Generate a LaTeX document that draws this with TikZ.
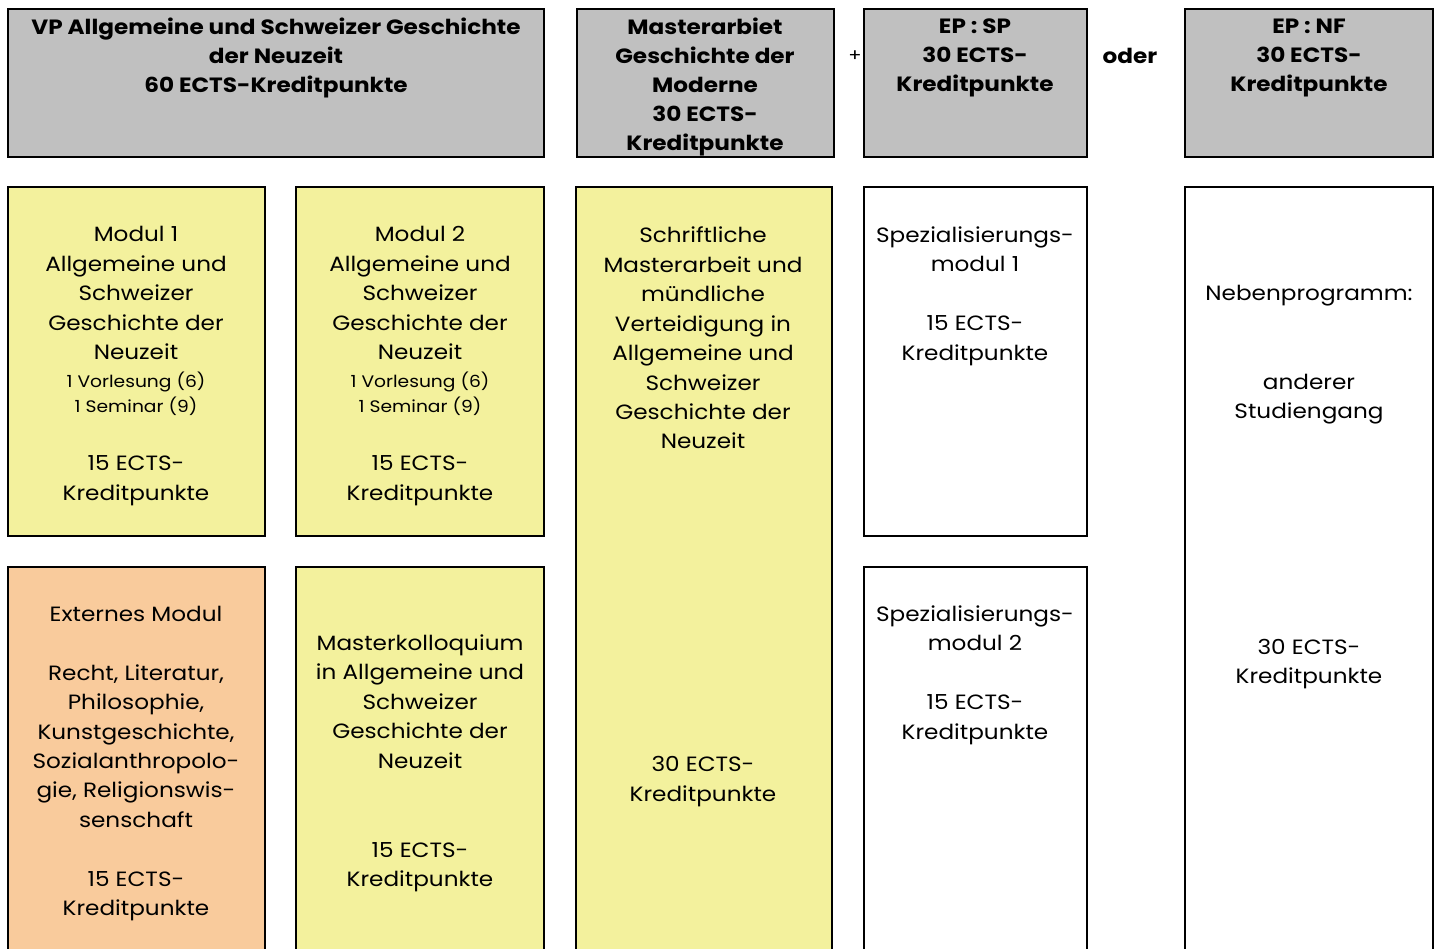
\documentclass[tikz,border=0pt]{standalone}
\usepackage{fontspec}
\setmainfont[FakeStretch=1.12]{Poppins}
\definecolor{hgray}{HTML}{C0C0C0}
\definecolor{myyellow}{HTML}{F3F19D}
\definecolor{myorange}{HTML}{F9CB9C}
\begin{document}
\begin{tikzpicture}[x=0.75pt,y=-0.75pt,
  boxline/.style={line width=2.2pt},
  hdrbox/.style={boxline,draw=black,fill=hgray},
  ylbox/.style={boxline,draw=black,fill=myyellow},
  orbox/.style={boxline,draw=black,fill=myorange},
  whbox/.style={boxline,draw=black,fill=white},
  hdr/.style={align=center,inner sep=0pt,font=\fontsize{15.5}{21.8}\selectfont\bfseries},
  txt/.style={align=center,inner sep=0pt,font=\fontsize{15.5}{22.1}\selectfont},
  smalltxt/.style={align=center,inner sep=0pt,font=\fontsize{12.5}{18.7}\selectfont}]
\useasboundingbox (0,0) rectangle (1440,949);
% header boxes
\path[hdrbox] (8,9) rectangle (544,157);
\path[hdrbox] (577,9) rectangle (834,157);
\path[hdrbox] (864,9) rectangle (1087,157);
\path[hdrbox] (1185,9) rectangle (1433,157);
\node[hdr] (hvp) at (276,58) {VP Allgemeine und Schweizer Geschichte\\der Neuzeit\\60 ECTS-Kreditpunkte};
\node[hdr] (hma) at (705,87) {Masterarbiet\\Geschichte der\\Moderne\\30 ECTS-\\Kreditpunkte};
\node[txt,font=\fontsize{13}{16}\selectfont] (plus) at (855,56) {+};
\node[hdr] (hsp) at (975,58) {EP : SP\\30 ECTS-\\Kreditpunkte};
\node[hdr] (oder) at (1130,56) {oder};
\node[hdr] (hnf) at (1309,58) {EP : NF\\30 ECTS-\\Kreditpunkte};
% body boxes
\path[ylbox] (8,187) rectangle (265,536);
\path[ylbox] (296,187) rectangle (544,536);
\path[ylbox] (576,187) rectangle (832,960);
\path[whbox] (864,187) rectangle (1087,536);
\path[whbox] (1185,187) rectangle (1433,960);
\path[orbox] (8,567) rectangle (265,960);
\path[ylbox] (296,567) rectangle (544,960);
\path[whbox] (864,567) rectangle (1087,960);
% Modul 1
\node[txt] (m1a) at (136,293) {Modul 1\\Allgemeine und\\Schweizer\\Geschichte der\\Neuzeit};
\node[smalltxt] (m1b) at (136,394) {1 Vorlesung (6)\\1 Seminar (9)};
\node[txt] (m1c) at (136,480.5) {15 ECTS-\\Kreditpunkte};
% Modul 2
\node[txt] (m2a) at (420,293) {Modul 2\\Allgemeine und\\Schweizer\\Geschichte der\\Neuzeit};
\node[smalltxt] (m2b) at (420,394) {1 Vorlesung (6)\\1 Seminar (9)};
\node[txt] (m2c) at (420,480.5) {15 ECTS-\\Kreditpunkte};
% Masterarbeit
\node[txt] (maa) at (703,338) {Schriftliche\\Masterarbeit und\\mündliche\\Verteidigung in\\Allgemeine und\\Schweizer\\Geschichte der\\Neuzeit};
\node[txt] (mab) at (703,781.5) {30 ECTS-\\Kreditpunkte};
% Spezialisierungsmodul 1
\node[txt] (sp1) at (975,296) {Spezialisierungs-\\modul 1\\\mbox{}\\15 ECTS-\\Kreditpunkte};
% Nebenprogramm
\node[txt] (nba) at (1309,296) {Nebenprogramm:};
\node[txt] (nbb) at (1309,399) {anderer\\Studiengang};
\node[txt] (nbc) at (1309,664) {30 ECTS-\\Kreditpunkte};
% Externes Modul
\node[txt] (ext) at (136,763.5) {Externes Modul\\\mbox{}\\Recht, Literatur,\\Philosophie,\\Kunstgeschichte,\\Sozialanthropolo-\\gie, Religionswis-\\senschaft\\\mbox{}\\15 ECTS-\\Kreditpunkte};
% Masterkolloquium
\node[txt] (mka) at (420,701.5) {Masterkolloquium\\in Allgemeine und\\Schweizer\\Geschichte der\\Neuzeit};
\node[txt] (mkb) at (420,867) {15 ECTS-\\Kreditpunkte};
% Spezialisierungsmodul 2
\node[txt] (sp2) at (975,675) {Spezialisierungs-\\modul 2\\\mbox{}\\15 ECTS-\\Kreditpunkte};
\end{tikzpicture}
\end{document}
